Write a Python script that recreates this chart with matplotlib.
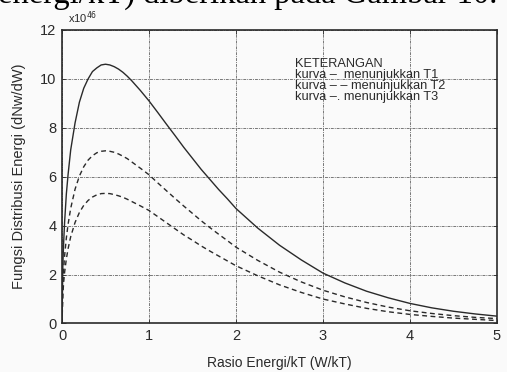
import matplotlib.pyplot as plt

# energy ratio W/kT and distribution values (x 1e46) for three temperatures
ratio = [0, 0.01, 0.02, 0.03, 0.05, 0.07,
         0.1, 0.15, 0.2, 0.25, 0.3, 0.35, 0.4, 0.45, 0.5, 0.55, 0.6, 0.65,
         0.7, 0.75, 0.8,
         0.9, 1.0, 1.1, 1.2, 1.3, 1.4, 1.5, 1.6, 1.7, 1.8, 1.9, 2.0,
         2.25, 2.5, 2.75, 3.0, 3.25, 3.5, 3.75, 4.0, 4.25, 4.5, 4.75, 5.0]
t1 = [0, 2.45, 3.4, 4.15, 5.3, 6.1,
      7.1, 8.2, 9.05, 9.62, 10.0, 10.3, 10.45, 10.57, 10.6, 10.57, 10.5, 10.4,
      10.27, 10.11, 9.93,
      9.53, 9.1, 8.63, 8.15, 7.68, 7.2, 6.75, 6.3, 5.89, 5.48, 5.1, 4.7,
      3.9, 3.2, 2.6, 2.06, 1.66, 1.32, 1.05, 0.82, 0.64, 0.5, 0.39, 0.3]
t2 = [0, 1.63, 2.28, 2.77, 3.5, 4.06,
      4.71, 5.49, 6.03, 6.41, 6.68, 6.86, 6.98, 7.04, 7.06, 7.04, 7.0, 6.93,
      6.84, 6.74, 6.61,
      6.35, 6.08, 5.75, 5.43, 5.11, 4.8, 4.5, 4.2, 3.92, 3.65, 3.39, 3.12,
      2.58, 2.1, 1.7, 1.36, 1.09, 0.86, 0.67, 0.52, 0.41, 0.32, 0.25, 0.2]
t3 = [0, 1.23, 1.72, 2.09, 2.64, 3.06,
      3.55, 4.13, 4.54, 4.83, 5.03, 5.17, 5.26, 5.31, 5.32, 5.31, 5.27, 5.22,
      5.16, 5.08, 4.99,
      4.81, 4.62, 4.37, 4.12, 3.87, 3.62, 3.4, 3.17, 2.96, 2.76, 2.56, 2.36,
      1.95, 1.58, 1.27, 1.0, 0.8, 0.62, 0.48, 0.37, 0.29, 0.22, 0.17, 0.12]

xticks = [0, 1, 2, 3, 4, 5]
yticks = [0, 2, 4, 6, 8, 10, 12]

legend_lines = ['KETERANGAN',
                'kurva \u2013  menunjukkan T1',
                'kurva \u2013 \u2013 menunjukkan T2',
                'kurva \u2013. menunjukkan T3']

ink = '#2a2a2a'
plt.rcParams['font.family'] = ['Liberation Sans', 'DejaVu Sans']

fig = plt.figure(figsize=(5.07, 3.72), dpi=100, facecolor='#fafafa')
ax = fig.add_axes([0.1223, 0.1304, 0.858, 0.789])
ax.set_facecolor('#fafafa')

ax.plot(ratio, t1, color=ink, lw=1.0)
ax.plot(ratio, t2, color=ink, lw=1.0, linestyle=(0, (3.5, 2.5)))
ax.plot(ratio, t3, color=ink, lw=1.0, linestyle=(0, (3.5, 2.5)))

ax.set_xlim(0, 5)
ax.set_ylim(0, 12)
ax.set_xticks(xticks)
ax.set_yticks(yticks)
ax.tick_params(direction='in', length=3, width=0.6, colors=ink,
               labelsize=10.5, top=True, right=True, pad=4)
ax.grid(True, color='#777777', lw=0.7, linestyle=(0, (3, 1, 1, 1)))
for s in ax.spines.values():
    s.set_linewidth(1.2)
    s.set_color(ink)

ax.set_xlabel('Rasio Energi/kT (W/kT)', fontsize=10, color=ink, labelpad=9)
ax.set_ylabel('Fungsi Distribusi Energi (dNw/dW)', fontsize=10.5, color=ink,
              labelpad=10)

# exponent marker above the y axis
ax.text(0.014, 1.015, r'x10$^{46}$', transform=ax.transAxes, fontsize=8,
        color=ink, va='bottom', ha='left')

# legend notes written inside the plot
for i, line in enumerate(legend_lines):
    ax.text(2.68, 10.62 - i * 0.46, line, fontsize=9.2, color=ink,
            va='center', ha='left')

# caption line from the surrounding page, mostly above the top edge
fig.text(-0.004, 1 - 2.5 / 372, 'energi/kT) diberikan pada Gambar 10.',
         family='Liberation Serif', fontsize=23.5, color='black',
         va='baseline', ha='left')

fig.savefig('out.png', dpi=100, facecolor=fig.get_facecolor())
